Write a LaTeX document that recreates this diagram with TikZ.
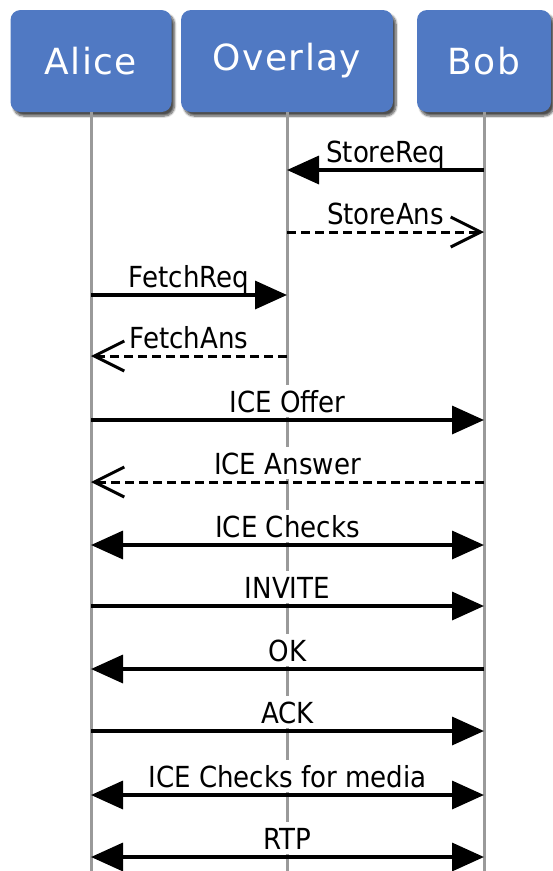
\documentclass[tikz,border=0pt]{standalone}
\usepackage{fontspec}
\setmainfont{DejaVu Sans}
\newfontfamily\actorfont[LetterSpace=4]{DejaVu Sans}
\newfontfamily\msgfont[FakeStretch=0.9]{DejaVu Sans}
\usetikzlibrary{arrows.meta,shadows.blur}
\definecolor{actorblue}{HTML}{5079C3}
\definecolor{lifegray}{HTML}{9A9A9A}
\tikzset{
  actor/.style={rectangle, rounded corners=10pt, fill=actorblue, text=white,
    font=\actorfont\fontsize{36}{40}\selectfont, minimum height=102pt,
    blur shadow={shadow xshift=3pt, shadow yshift=-4pt, shadow blur steps=8,
      shadow opacity=70}},
  lifeline/.style={lifegray, line width=3pt},
  msg/.style={line width=3.5pt, -{Triangle[length=32pt,width=28pt]}},
  ans/.style={line width=3pt, dash pattern=on 9pt off 5pt,
    -{Straight Barb[length=30pt,width=30pt]}},
  both/.style={line width=3.5pt,
    {Triangle[length=32pt,width=28pt]}-{Triangle[length=32pt,width=28pt]}},
  lbl/.style={fill=white, inner xsep=2pt, inner ysep=5pt, text height=22pt,
    text depth=0pt, anchor=base, yshift=8pt,
    font=\msgfont\fontsize{29}{30}\selectfont}
}
\begin{document}
\begin{tikzpicture}[x=1pt,y=-1pt]
      \useasboundingbox (0,0) rectangle (553,871);
      % actors
      \node[actor, minimum width=161pt] (alice) at (91,61) {Alice};
      \node[actor, minimum width=212pt] (overlay) at (287,61) {Overlay};
      \node[actor, minimum width=134pt] (bob) at (484,61) {Bob};
      % lifelines
      \draw[lifeline] (alice.south) -- (alice.south |- 0,871);
      \draw[lifeline] (overlay.south) -- (overlay.south |- 0,871);
      \draw[lifeline] (bob.south) -- (bob.south |- 0,871);
      % messages
      \begin{scope}
        \draw[msg] (bob |- 0,170) -- (overlay |- 0,170) node[lbl, midway] (storereq) {StoreReq};
        \draw[ans] (overlay |- 0,232) -- (bob |- 0,232) node[lbl, midway] (storeans) {StoreAns};
        \draw[msg] (alice |- 0,295) -- (overlay |- 0,295) node[lbl, midway] (fetchreq) {FetchReq};
        \draw[ans] (overlay |- 0,356) -- (alice |- 0,356) node[lbl, midway] (fetchans) {FetchAns};
        \draw[msg] (alice |- 0,420) -- (bob |- 0,420) node[lbl, midway] (offer) {ICE Offer};
        \draw[ans] (bob |- 0,482) -- (alice |- 0,482) node[lbl, midway] (answer) {ICE Answer};
        \draw[both] (alice |- 0,545) -- (bob |- 0,545) node[lbl, midway] (checks) {ICE Checks};
        \draw[msg] (alice |- 0,606) -- (bob |- 0,606) node[lbl, midway] (invite) {INVITE};
        \draw[msg] (bob |- 0,669) -- (alice |- 0,669) node[lbl, midway] (ok) {OK};
        \draw[msg] (alice |- 0,731) -- (bob |- 0,731) node[lbl, midway] (ack) {ACK};
        \draw[both] (alice |- 0,795) -- (bob |- 0,795) node[lbl, midway] (media) {ICE Checks for media};
        \draw[both] (alice |- 0,857) -- (bob |- 0,857) node[lbl, midway] (rtp) {RTP};
      \end{scope}
    \end{tikzpicture}
\end{document}
